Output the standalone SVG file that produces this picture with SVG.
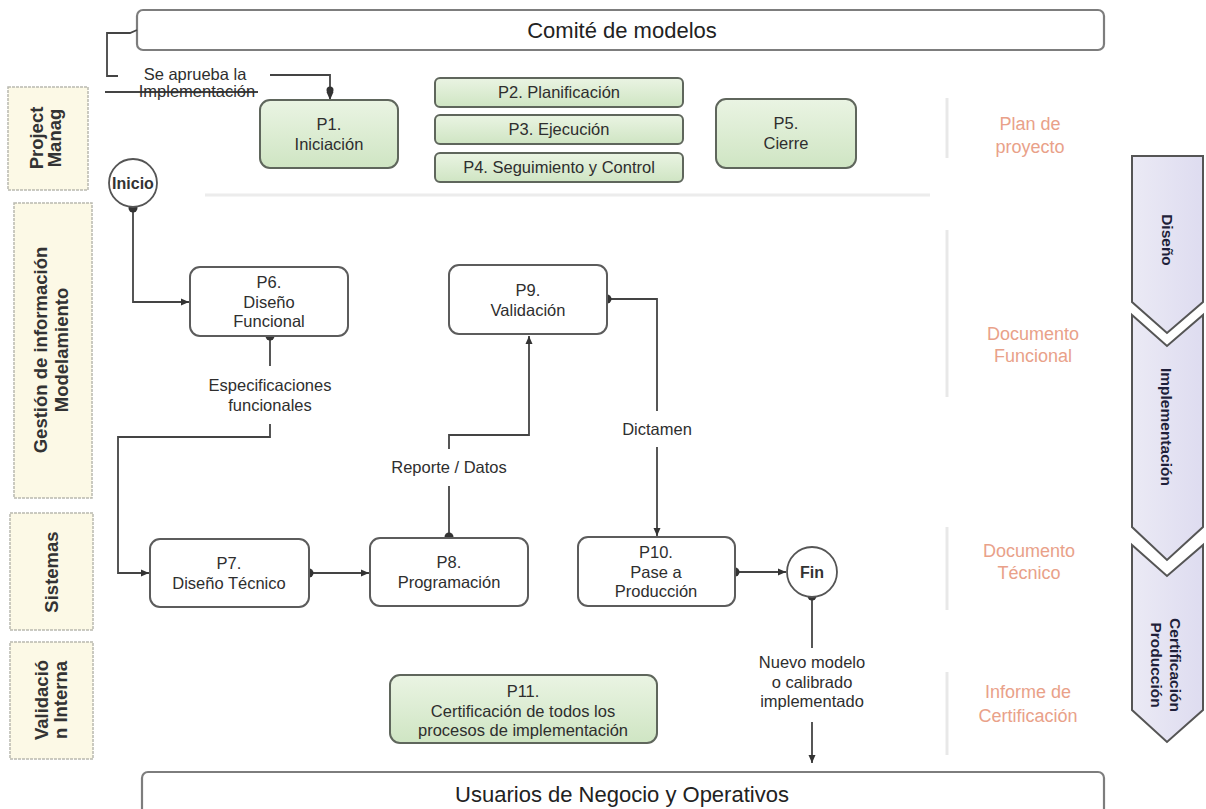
<svg xmlns="http://www.w3.org/2000/svg" width="1206" height="809" viewBox="0 0 1206 809">
  <defs>
    <linearGradient id="greenFill" x1="0" y1="0" x2="0" y2="1">
      <stop offset="0" stop-color="#eaf4e3"/>
      <stop offset="1" stop-color="#cfe5c3"/>
    </linearGradient>
    <linearGradient id="phaseFill" x1="0" y1="0" x2="1" y2="0">
      <stop offset="0" stop-color="#ebeaf5"/>
      <stop offset="1" stop-color="#dedcf0"/>
    </linearGradient>
    <marker id="arrow" markerWidth="10" markerHeight="10" refX="8" refY="5" orient="auto" markerUnits="userSpaceOnUse">
      <path d="M0,1.5 L8,5 L0,8.5 Z" fill="#333"/>
    </marker>
    <style>
      .txt { font-family: "Liberation Sans", Arial, sans-serif; fill: #2e2e2e; }
      .bar { fill: #fff; stroke: #7d7d7d; stroke-width: 2.2; }
      .barText { font-size: 22px; text-anchor: middle; fill: #222; }
      .lane { fill: #fcf9e6; stroke: #b9b9b0; stroke-width: 1.5; stroke-dasharray: 3 1; }
      .laneText { font-size: 18.5px; font-weight: bold; text-anchor: middle; fill: #333; }
      .proc { fill: #fff; stroke: #5c5c5c; stroke-width: 2; }
      .procG { fill: url(#greenFill); stroke: #5f665c; stroke-width: 2; }
      .nodeText { font-size: 16.5px; text-anchor: middle; }
      .event { fill: #fff; stroke: #555; stroke-width: 1.8; }
      .eventText { font-size: 16px; font-weight: bold; text-anchor: middle; fill: #333; }
      .edge { fill: none; stroke: #444; stroke-width: 1.8; }
      .dot { fill: #333; }
      .label { font-size: 16.5px; text-anchor: middle; }
      .deliv { font-family: "Liberation Sans", Arial, sans-serif; font-size: 18px; text-anchor: middle; fill: #e9a189; }
      .sep { stroke: #e8e8e8; stroke-width: 3; }
      .phase { fill: url(#phaseFill); stroke: #555; stroke-width: 2; }
      .phaseText { font-family: "Liberation Sans", Arial, sans-serif; font-size: 15.5px; font-weight: bold; text-anchor: middle; fill: #1f1f3a; }
    </style>
  </defs>

  <rect width="1206" height="809" fill="#fff"/>

  <!-- faint separators of the deliverables column -->
  <g id="separators">
    <line class="sep" x1="947" y1="98" x2="947" y2="158"/>
    <line class="sep" x1="947" y1="230" x2="947" y2="397"/>
    <line class="sep" x1="947" y1="527" x2="947" y2="610"/>
    <line class="sep" x1="947" y1="672" x2="947" y2="755"/>
    <line x1="205" y1="195" x2="930" y2="195" stroke="#ececec" stroke-width="3"/>
  </g>

  <!-- committee bar -->
  <g id="comite">
    <rect class="bar" x="137" y="10" width="967" height="40" rx="6"/>
    <text class="txt barText" x="622" y="38">Comité de modelos</text>
  </g>

  <!-- business users bar -->
  <g id="usuarios">
    <rect class="bar" x="142" y="772" width="962" height="50" rx="6"/>
    <text class="txt barText" x="622" y="802" font-size="21">Usuarios de Negocio y Operativos</text>
  </g>

  <!-- swimlane headers -->
  <g id="lane-pm">
    <rect class="lane" x="8" y="87" width="80" height="103"/>
    <text class="txt laneText" transform="translate(48,138) rotate(-90)"><tspan x="0" y="-5">Project</tspan><tspan x="0" y="13">Manag</tspan></text>
  </g>
  <g id="lane-gestion">
    <rect class="lane" x="14" y="203" width="78" height="295"/>
    <text class="txt laneText" transform="translate(53,350) rotate(-90)"><tspan x="0" y="-6">Gestión de información</tspan><tspan x="0" y="15">Modelamiento</tspan></text>
  </g>
  <g id="lane-sistemas">
    <rect class="lane" x="10" y="513" width="83" height="117"/>
    <text class="txt laneText" transform="translate(51,572) rotate(-90)"><tspan x="0" y="7">Sistemas</tspan></text>
  </g>
  <g id="lane-validacion">
    <rect class="lane" x="10" y="642" width="83" height="117"/>
    <text class="txt laneText" transform="translate(51,700) rotate(-90)"><tspan x="0" y="-3">Validació</tspan><tspan x="0" y="16">n Interna</tspan></text>
  </g>

  <!-- connectors -->
  <g id="connectors">
    <path class="edge" d="M118,76 H107 V33 H130 L137,30"/>
    <line class="edge" x1="105" y1="92" x2="258" y2="92"/>
    <path class="edge" d="M270,75 H330 V100" marker-end="url(#arrow)"/>
    <circle class="dot" cx="330" cy="90" r="3.5"/>

    <path class="edge" d="M133,208 V302 H189" marker-end="url(#arrow)"/>
    <circle class="dot" cx="133" cy="208" r="4.5"/>

    <path class="edge" d="M270,336 V366"/>
    <path class="edge" d="M270,424 V437 H118 V573 H149" marker-end="url(#arrow)"/>
    <circle class="dot" cx="270" cy="336" r="4.5"/>

    <path class="edge" d="M309,573 H369" marker-end="url(#arrow)"/>
    <circle class="dot" cx="309" cy="573" r="4.5"/>

    <path class="edge" d="M449,537 V486"/>
    <path class="edge" d="M449,449 V435 H529 V336" marker-end="url(#arrow)"/>
    <circle class="dot" cx="449" cy="537" r="4.5"/>

    <path class="edge" d="M607,299 H657 V411"/>
    <path class="edge" d="M657,447 V536" marker-end="url(#arrow)"/>
    <circle class="dot" cx="607" cy="299" r="4.5"/>

    <path class="edge" d="M735,572 H786" marker-end="url(#arrow)"/>
    <circle class="dot" cx="735" cy="572" r="4.5"/>

    <path class="edge" d="M812,596 V648"/>
    <path class="edge" d="M812,722 V763" marker-end="url(#arrow)"/>
    <circle class="dot" cx="812" cy="596" r="4.5"/>

    <text class="txt label" x="195" y="80">Se aprueba la</text>
    <text class="txt label" x="197" y="97">Implementación</text>
    <text class="txt label" x="270" y="391">Especificaciones</text>
    <text class="txt label" x="270" y="411">funcionales</text>
    <text class="txt label" x="449" y="473">Reporte / Datos</text>
    <text class="txt label" x="657" y="435">Dictamen</text>
    <text class="txt label" x="812" y="668">Nuevo modelo</text>
    <text class="txt label" x="812" y="688">o calibrado</text>
    <text class="txt label" x="812" y="707">implementado</text>
  </g>

  <!-- project management processes -->
  <g id="p1">
    <rect class="procG" x="260" y="100" width="138" height="68" rx="10"/>
    <text class="txt nodeText" x="329" y="130">P1.</text>
    <text class="txt nodeText" x="329" y="150">Iniciación</text>
  </g>
  <g id="p2">
    <rect class="procG" x="435" y="78" width="248" height="29" rx="5"/>
    <text class="txt nodeText" x="559" y="98">P2. Planificación</text>
  </g>
  <g id="p3">
    <rect class="procG" x="435" y="115" width="248" height="29" rx="5"/>
    <text class="txt nodeText" x="559" y="135">P3. Ejecución</text>
  </g>
  <g id="p4">
    <rect class="procG" x="435" y="153" width="248" height="29" rx="5"/>
    <text class="txt nodeText" x="559" y="173">P4. Seguimiento y Control</text>
  </g>
  <g id="p5">
    <rect class="procG" x="716" y="99" width="140" height="69" rx="10"/>
    <text class="txt nodeText" x="786" y="129">P5.</text>
    <text class="txt nodeText" x="786" y="149">Cierre</text>
  </g>

  <!-- start / end events -->
  <g id="inicio">
    <circle class="event" cx="133" cy="183" r="24"/>
    <text class="txt eventText" x="133" y="189" font-size="15">Inicio</text>
  </g>
  <g id="fin">
    <circle class="event" cx="812" cy="572" r="25"/>
    <text class="txt eventText" x="812" y="578" font-size="17">Fin</text>
  </g>

  <!-- modelling and systems processes -->
  <g id="p6">
    <rect class="proc" x="190" y="267" width="158" height="69" rx="10"/>
    <text class="txt nodeText" x="269" y="288">P6.</text>
    <text class="txt nodeText" x="269" y="308">Diseño</text>
    <text class="txt nodeText" x="269" y="327">Funcional</text>
  </g>
  <g id="p9">
    <rect class="proc" x="449" y="265" width="158" height="69" rx="10"/>
    <text class="txt nodeText" x="528" y="296">P9.</text>
    <text class="txt nodeText" x="528" y="316">Validación</text>
  </g>
  <g id="p7">
    <rect class="proc" x="150" y="539" width="159" height="68" rx="10"/>
    <text class="txt nodeText" x="229" y="569">P7.</text>
    <text class="txt nodeText" x="229" y="589">Diseño Técnico</text>
  </g>
  <g id="p8">
    <rect class="proc" x="370" y="538" width="158" height="68" rx="10"/>
    <text class="txt nodeText" x="449" y="568">P8.</text>
    <text class="txt nodeText" x="449" y="588">Programación</text>
  </g>
  <g id="p10">
    <rect class="proc" x="578" y="537" width="157" height="69" rx="10"/>
    <text class="txt nodeText" x="656" y="558">P10.</text>
    <text class="txt nodeText" x="656" y="578">Pase a</text>
    <text class="txt nodeText" x="656" y="597">Producción</text>
  </g>
  <g id="p11">
    <rect class="procG" x="390" y="675" width="267" height="68" rx="10"/>
    <text class="txt nodeText" x="523" y="697">P11.</text>
    <text class="txt nodeText" x="523" y="717">Certificación de todos los</text>
    <text class="txt nodeText" x="523" y="736">procesos de implementación</text>
  </g>

  <!-- deliverables -->
  <g id="deliverables">
    <text class="deliv" x="1030" y="130">Plan de</text>
    <text class="deliv" x="1030" y="153">proyecto</text>
    <text class="deliv" x="1033" y="340">Documento</text>
    <text class="deliv" x="1033" y="362">Funcional</text>
    <text class="deliv" x="1029" y="557">Documento</text>
    <text class="deliv" x="1029" y="579">Técnico</text>
    <text class="deliv" x="1028" y="698">Informe de</text>
    <text class="deliv" x="1028" y="722">Certificación</text>
  </g>

  <!-- phase chevrons -->
  <g id="fase-diseno">
    <path class="phase" d="M1132,156 H1203 V302 L1167,333 L1132,302 Z"/>
    <text class="phaseText" transform="translate(1162,240) rotate(90)">Diseño</text>
  </g>
  <g id="fase-implementacion">
    <path class="phase" d="M1132,315 L1167,346 L1203,315 V527 L1167,560 L1132,527 Z"/>
    <text class="phaseText" transform="translate(1161,427) rotate(90)">Implementación</text>
  </g>
  <g id="fase-certificacion">
    <path class="phase" d="M1132,545 L1167,576 L1203,545 V710 L1167,742 L1132,710 Z"/>
    <text class="phaseText" transform="translate(1170,665) rotate(90)"><tspan x="0" y="0">Certificación</tspan><tspan x="0" y="19">Producción</tspan></text>
  </g>
</svg>
